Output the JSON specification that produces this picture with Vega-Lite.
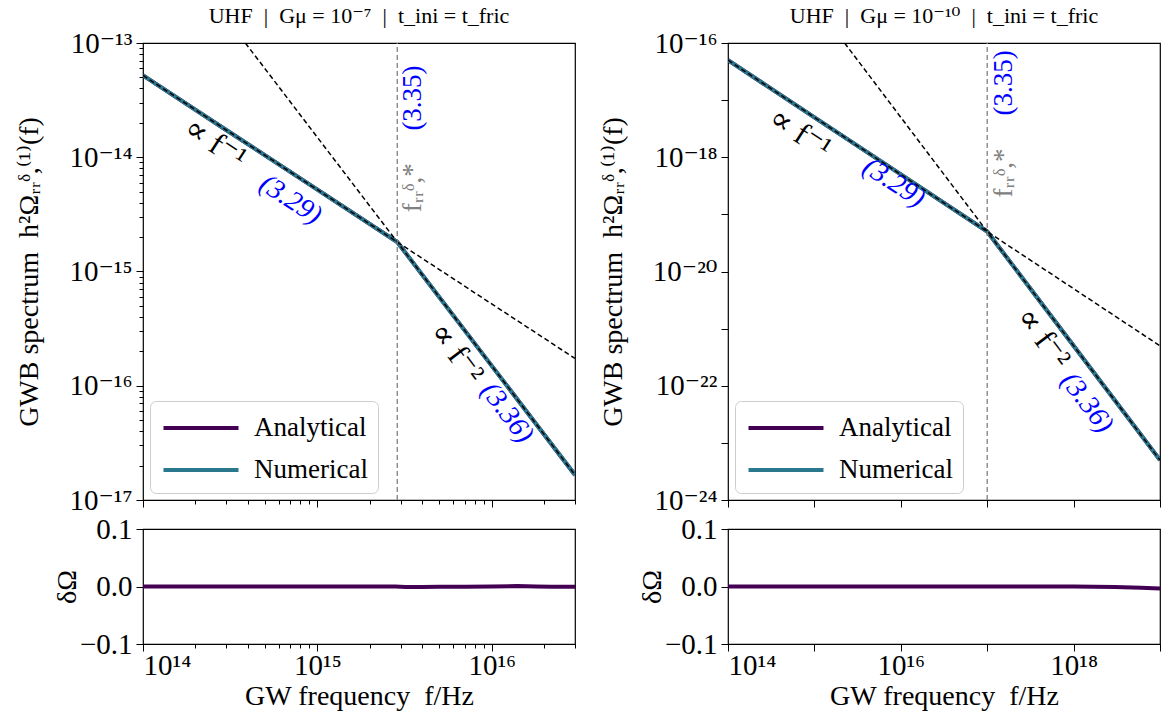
{
  "$schema": "https://vega.github.io/schema/vega-lite/v6.json",
  "padding": {"left": 15, "top": 4, "right": 0, "bottom": 0},
  "background": "white",
  "config": {
    "font": "Liberation Serif, DejaVu Serif",
    "view": {"stroke": "black", "strokeWidth": 1.2},
    "axis": {"labelFont": "Liberation Serif, DejaVu Serif", "titleFont": "Liberation Serif, DejaVu Serif", "labelFontSize": 29, "titleFontSize": 28, "labelColor": "black", "titleColor": "black", "titleFontWeight": "normal", "domainColor": "black", "tickColor": "black", "grid": false, "labelPadding": 4, "tickWidth": 1, "domain": false},
    "legend": {"labelFont": "Liberation Serif, DejaVu Serif"},
    "title": {"font": "Liberation Serif, DejaVu Serif", "fontSize": 22, "fontWeight": "normal", "color": "black", "offset": 1}
  },
  "datasets": {
    "specL": [
      {"f": 1e14, "omega": 5.2e-14, "series": "Analytical"},
      {"f": 3e14, "omega": 1.733e-14, "series": "Analytical"},
      {"f": 1e15, "omega": 5.2e-15, "series": "Analytical"},
      {"f": 2.87e15, "omega": 1.812e-15, "series": "Analytical"},
      {"f": 5e15, "omega": 5.97e-16, "series": "Analytical"},
      {"f": 1e16, "omega": 1.4925e-16, "series": "Analytical"},
      {"f": 2e16, "omega": 3.731e-17, "series": "Analytical"},
      {"f": 3e16, "omega": 1.658e-17, "series": "Analytical"},
      {"f": 1e14, "omega": 5.2e-14, "series": "Numerical"},
      {"f": 3e14, "omega": 1.733e-14, "series": "Numerical"},
      {"f": 1e15, "omega": 5.2e-15, "series": "Numerical"},
      {"f": 2.87e15, "omega": 1.812e-15, "series": "Numerical"},
      {"f": 5e15, "omega": 5.96e-16, "series": "Numerical"},
      {"f": 1e16, "omega": 1.4925e-16, "series": "Numerical"},
      {"f": 2e16, "omega": 3.731e-17, "series": "Numerical"},
      {"f": 3e16, "omega": 1.658e-17, "series": "Numerical"}
    ],
    "asymL": [
      {"f": 1e14, "omega": 5.2e-14, "fit": "f^-1"},
      {"f": 3e16, "omega": 1.733e-16, "fit": "f^-1"},
      {"f": 3.863e14, "omega": 1e-13, "fit": "f^-2"},
      {"f": 3e16, "omega": 1.658e-17, "fit": "f^-2"}
    ],
    "specR": [
      {"f": 1e14, "omega": 5e-17, "series": "Analytical"},
      {"f": 1e15, "omega": 5e-18, "series": "Analytical"},
      {"f": 1e16, "omega": 5e-19, "series": "Analytical"},
      {"f": 1e17, "omega": 5e-20, "series": "Analytical"},
      {"f": 1e18, "omega": 5e-22, "series": "Analytical"},
      {"f": 1e19, "omega": 5e-24, "series": "Analytical"},
      {"f": 1e14, "omega": 5e-17, "series": "Numerical"},
      {"f": 1e15, "omega": 5e-18, "series": "Numerical"},
      {"f": 1e16, "omega": 5e-19, "series": "Numerical"},
      {"f": 1e17, "omega": 5e-20, "series": "Numerical"},
      {"f": 1e18, "omega": 5e-22, "series": "Numerical"},
      {"f": 1e19, "omega": 5.02e-24, "series": "Numerical"}
    ],
    "asymR": [
      {"f": 1e14, "omega": 5e-17, "fit": "f^-1"},
      {"f": 1e19, "omega": 5e-22, "fit": "f^-1"},
      {"f": 2.236e15, "omega": 1e-16, "fit": "f^-2"},
      {"f": 1e19, "omega": 5e-24, "fit": "f^-2"}
    ],
    "resL": [
      {"f": 1e14, "d": 0}, {"f": 3e14, "d": 0}, {"f": 1e15, "d": 0}, {"f": 2e15, "d": 0},
      {"f": 2.8e15, "d": 0}, {"f": 3.2e15, "d": -0.0008}, {"f": 4e15, "d": -0.0009},
      {"f": 5e15, "d": -0.0005}, {"f": 7e15, "d": -0.0004}, {"f": 1e16, "d": 0.0002},
      {"f": 1.4e16, "d": 0.0008}, {"f": 1.8e16, "d": 0.0002}, {"f": 2.2e16, "d": -0.0004},
      {"f": 3e16, "d": -0.0003}
    ],
    "resR": [
      {"f": 1e14, "d": 0}, {"f": 1e15, "d": 0}, {"f": 1e16, "d": 0}, {"f": 1e17, "d": 0},
      {"f": 1e18, "d": -0.0002}, {"f": 3e18, "d": -0.0008}, {"f": 6e18, "d": -0.002},
      {"f": 1e19, "d": -0.0035}
    ]
  },
  "resolve": {"scale": {"color": "independent"}, "legend": {"color": "independent"}},
  "spacing": 21,
  "hconcat": [
    {
      "spacing": -2,
      "resolve": {"scale": {"color": "independent"}, "legend": {"color": "independent"}},
      "vconcat": [
        {
          "width": 432, "height": 457,
          "title": "UHF\u00a0\u00a0|\u00a0\u00a0Gμ = 10⁻⁷\u00a0\u00a0|\u00a0\u00a0t_ini = t_fric",
          "encoding": {
            "x": {"field": "f", "type": "quantitative", "scale": {"type": "log", "domain": [1e14, 3e16], "nice": false},
              "axis": {"title": null, "labels": false,
                "values": [1e14, 2e14, 3e14, 4e14, 5e14, 6e14, 7e14, 8e14, 9e14, 1e15, 2e15, 3e15, 4e15, 5e15, 6e15, 7e15, 8e15, 9e15, 1e16, 2e16, 3e16],
                "tickSize": {"condition": {"test": "abs(log(datum.value)/LN10 - round(log(datum.value)/LN10)) < 0.01", "value": 7}, "value": 4}}},
            "y": {"field": "omega", "type": "quantitative", "scale": {"type": "log", "domain": [1e-17, 1e-13], "nice": false},
              "axis": {"title": "GWB spectrum\u00a0\u00a0h²Ωᵣᵣᵟ,⁽¹⁾(f)", "titlePadding": 25,
                "values": [1e-17, 2e-17, 3e-17, 4e-17, 5e-17, 6e-17, 7e-17, 8e-17, 9e-17, 1e-16, 2e-16, 3e-16, 4e-16, 5e-16, 6e-16, 7e-16, 8e-16, 9e-16, 1e-15, 2e-15, 3e-15, 4e-15, 5e-15, 6e-15, 7e-15, 8e-15, 9e-15, 1e-14, 2e-14, 3e-14, 4e-14, 5e-14, 6e-14, 7e-14, 8e-14, 9e-14, 1e-13],
                "labelExpr": "abs(log(datum.value)/LN10 - round(log(datum.value)/LN10)) < 0.01 ? '10' + replace(replace(replace(replace(replace(replace(replace(replace(replace(replace(replace(toString(round(log(datum.value)/LN10)),'-','⁻'),regexp('0','g'),'⁰'),regexp('1','g'),'¹'),regexp('2','g'),'²'),regexp('3','g'),'³'),regexp('4','g'),'⁴'),regexp('5','g'),'⁵'),regexp('6','g'),'⁶'),regexp('7','g'),'⁷'),regexp('8','g'),'⁸'),regexp('9','g'),'⁹') : ''",
                "tickSize": {"condition": {"test": "abs(log(datum.value)/LN10 - round(log(datum.value)/LN10)) < 0.01", "value": 7}, "value": 4}}}
          },
          "layer": [
            {
              "data": {"name": "specL"},
              "mark": {"type": "line", "strokeWidth": 4, "clip": true},
              "encoding": {
                "color": {"field": "series", "type": "nominal", "scale": {"domain": ["Analytical", "Numerical"], "range": ["#440154", "#2a788e"]},
                  "legend": {"orient": "bottom-left", "title": null, "labelFontSize": 27, "symbolType": "M-2.5,0H2.5", "symbolSize": 900, "symbolStrokeWidth": 4, "symbolOffset": 24, "strokeColor": "#cccccc", "fillColor": "white", "padding": 10, "cornerRadius": 6, "rowPadding": 12, "labelOffset": 36, "offset": 7, "labelColor": "black"}}
              }
            },
            {
              "data": {"name": "asymL"},
              "mark": {"type": "line", "color": "black", "strokeWidth": 1.5, "strokeDash": [5, 3], "clip": true},
              "encoding": {"detail": {"field": "fit"}}
            },
            {
              "data": {"values": [{"f": 2.87e15, "omega": 1e-17, "omega2": 1e-13}]},
              "mark": {"type": "rule", "color": "#808080", "strokeWidth": 1.3, "strokeDash": [5, 3]},
              "encoding": {"y2": {"field": "omega2"}}
            },
            {
              "data": {"values": [{"f": 2.6e14, "omega": 1.33e-14, "label": "∝ f⁻¹"}]},
              "mark": {"type": "text", "angle": 33, "fontSize": 32, "color": "black", "align": "center", "baseline": "middle"},
              "encoding": {"text": {"field": "label"}}
            },
            {
              "data": {"values": [{"f": 6.3e15, "omega": 1.94e-16, "label": "∝ f⁻²"}]},
              "mark": {"type": "text", "angle": 53, "fontSize": 32, "color": "black", "align": "center", "baseline": "middle"},
              "encoding": {"text": {"field": "label"}}
            },
            {
              "data": {"values": [{"f": 7.0e14, "omega": 4.23e-15, "label": "(3.29)"}]},
              "mark": {"type": "text", "angle": 33, "fontSize": 28, "color": "#0000ff", "align": "center", "baseline": "middle", "fontStyle": "italic"},
              "encoding": {"text": {"field": "label"}}
            },
            {
              "data": {"values": [{"f": 1.22e16, "omega": 5.78e-17, "label": "(3.36)"}]},
              "mark": {"type": "text", "angle": 53, "fontSize": 28, "color": "#0000ff", "align": "center", "baseline": "middle", "fontStyle": "italic"},
              "encoding": {"text": {"field": "label"}}
            },
            {
              "data": {"values": [{"f": 3.53e15, "omega": 5.4e-15, "label": "fᵣᵣᵟ,*"}]},
              "mark": {"type": "text", "angle": 270, "fontSize": 27, "color": "#808080", "align": "center", "baseline": "middle"},
              "encoding": {"text": {"field": "label"}}
            },
            {
              "data": {"values": [{"f": 3.53e15, "omega": 3.3e-14, "label": "(3.35)"}]},
              "mark": {"type": "text", "angle": 270, "fontSize": 27, "color": "#0000ff", "align": "center", "baseline": "middle"},
              "encoding": {"text": {"field": "label"}}
            }
          ]
        },
        {
          "width": 432, "height": 115,
          "data": {"name": "resL"},
          "mark": {"type": "line", "color": "#440154", "strokeWidth": 4, "clip": true},
          "encoding": {
            "x": {"field": "f", "type": "quantitative", "scale": {"type": "log", "domain": [1e14, 3e16], "nice": false},
              "axis": {"title": "GW frequency\u00a0\u00a0f/Hz", "titlePadding": 2, "labelPadding": 0,
                "values": [1e14, 2e14, 3e14, 4e14, 5e14, 6e14, 7e14, 8e14, 9e14, 1e15, 2e15, 3e15, 4e15, 5e15, 6e15, 7e15, 8e15, 9e15, 1e16, 2e16, 3e16],
                "labelExpr": "abs(log(datum.value)/LN10 - round(log(datum.value)/LN10)) < 0.01 ? '10' + replace(replace(replace(replace(replace(replace(replace(replace(replace(replace(replace(toString(round(log(datum.value)/LN10)),'-','⁻'),regexp('0','g'),'⁰'),regexp('1','g'),'¹'),regexp('2','g'),'²'),regexp('3','g'),'³'),regexp('4','g'),'⁴'),regexp('5','g'),'⁵'),regexp('6','g'),'⁶'),regexp('7','g'),'⁷'),regexp('8','g'),'⁸'),regexp('9','g'),'⁹') : ''",
                "tickSize": {"condition": {"test": "abs(log(datum.value)/LN10 - round(log(datum.value)/LN10)) < 0.01", "value": 7}, "value": 4}}},
            "y": {"field": "d", "type": "quantitative", "scale": {"domain": [-0.1, 0.1], "nice": false},
              "axis": {"title": "δΩ", "titlePadding": -2, "values": [-0.1, 0, 0.1], "format": ".1f", "tickSize": 7}}
          }
        }
      ]
    },
    {
      "spacing": -2,
      "resolve": {"scale": {"color": "independent"}, "legend": {"color": "independent"}},
      "vconcat": [
        {
          "width": 432, "height": 457,
          "title": "UHF\u00a0\u00a0|\u00a0\u00a0Gμ = 10⁻¹⁰\u00a0\u00a0|\u00a0\u00a0t_ini = t_fric",
          "encoding": {
            "x": {"field": "f", "type": "quantitative", "scale": {"type": "log", "domain": [1e14, 1e19], "nice": false},
              "axis": {"title": null, "labels": false, "values": [1e14, 1e15, 1e16, 1e17, 1e18, 1e19], "tickSize": 7}},
            "y": {"field": "omega", "type": "quantitative", "scale": {"type": "log", "domain": [1e-24, 1e-16], "nice": false},
              "axis": {"title": "GWB spectrum\u00a0\u00a0h²Ωᵣᵣᵟ,⁽¹⁾(f)", "titlePadding": 25,
                "values": [1e-24, 1e-23, 1e-22, 1e-21, 1e-20, 1e-19, 1e-18, 1e-17, 1e-16],
                "labelExpr": "round(log(datum.value)/LN10) % 2 == 0 ? '10' + replace(replace(replace(replace(replace(replace(replace(replace(replace(replace(replace(toString(round(log(datum.value)/LN10)),'-','⁻'),regexp('0','g'),'⁰'),regexp('1','g'),'¹'),regexp('2','g'),'²'),regexp('3','g'),'³'),regexp('4','g'),'⁴'),regexp('5','g'),'⁵'),regexp('6','g'),'⁶'),regexp('7','g'),'⁷'),regexp('8','g'),'⁸'),regexp('9','g'),'⁹') : ''",
                "tickSize": 7}}
          },
          "layer": [
            {
              "data": {"name": "specR"},
              "mark": {"type": "line", "strokeWidth": 4, "clip": true},
              "encoding": {
                "color": {"field": "series", "type": "nominal", "scale": {"domain": ["Analytical", "Numerical"], "range": ["#440154", "#2a788e"]},
                  "legend": {"orient": "bottom-left", "title": null, "labelFontSize": 27, "symbolType": "M-2.5,0H2.5", "symbolSize": 900, "symbolStrokeWidth": 4, "symbolOffset": 24, "strokeColor": "#cccccc", "fillColor": "white", "padding": 10, "cornerRadius": 6, "rowPadding": 12, "labelOffset": 36, "offset": 7, "labelColor": "black"}}
              }
            },
            {
              "data": {"name": "asymR"},
              "mark": {"type": "line", "color": "black", "strokeWidth": 1.5, "strokeDash": [5, 3], "clip": true},
              "encoding": {"detail": {"field": "fit"}}
            },
            {
              "data": {"values": [{"f": 1e17, "omega": 1e-24, "omega2": 1e-16}]},
              "mark": {"type": "rule", "color": "#808080", "strokeWidth": 1.3, "strokeDash": [5, 3]},
              "encoding": {"y2": {"field": "omega2"}}
            },
            {
              "data": {"values": [{"f": 6.87e14, "omega": 2.65e-18, "label": "∝ f⁻¹"}]},
              "mark": {"type": "text", "angle": 33, "fontSize": 32, "color": "black", "align": "center", "baseline": "middle"},
              "encoding": {"text": {"field": "label"}}
            },
            {
              "data": {"values": [{"f": 4.47e17, "omega": 6.86e-22, "label": "∝ f⁻²"}]},
              "mark": {"type": "text", "angle": 53, "fontSize": 32, "color": "black", "align": "center", "baseline": "middle"},
              "encoding": {"text": {"field": "label"}}
            },
            {
              "data": {"values": [{"f": 8.3e15, "omega": 3.55e-19, "label": "(3.29)"}]},
              "mark": {"type": "text", "angle": 33, "fontSize": 28, "color": "#0000ff", "align": "center", "baseline": "middle", "fontStyle": "italic"},
              "encoding": {"text": {"field": "label"}}
            },
            {
              "data": {"values": [{"f": 1.42e18, "omega": 5e-23, "label": "(3.36)"}]},
              "mark": {"type": "text", "angle": 53, "fontSize": 28, "color": "#0000ff", "align": "center", "baseline": "middle", "fontStyle": "italic"},
              "encoding": {"text": {"field": "label"}}
            },
            {
              "data": {"values": [{"f": 1.58e17, "omega": 5.3e-19, "label": "fᵣᵣᵟ,*"}]},
              "mark": {"type": "text", "angle": 270, "fontSize": 27, "color": "#808080", "align": "center", "baseline": "middle"},
              "encoding": {"text": {"field": "label"}}
            },
            {
              "data": {"values": [{"f": 1.58e17, "omega": 2e-17, "label": "(3.35)"}]},
              "mark": {"type": "text", "angle": 270, "fontSize": 27, "color": "#0000ff", "align": "center", "baseline": "middle"},
              "encoding": {"text": {"field": "label"}}
            }
          ]
        },
        {
          "width": 432, "height": 115,
          "data": {"name": "resR"},
          "mark": {"type": "line", "color": "#440154", "strokeWidth": 4, "clip": true},
          "encoding": {
            "x": {"field": "f", "type": "quantitative", "scale": {"type": "log", "domain": [1e14, 1e19], "nice": false},
              "axis": {"title": "GW frequency\u00a0\u00a0f/Hz", "titlePadding": 2, "labelPadding": 0,
                "values": [1e14, 1e15, 1e16, 1e17, 1e18, 1e19],
                "labelExpr": "round(log(datum.value)/LN10) % 2 == 0 ? '10' + replace(replace(replace(replace(replace(replace(replace(replace(replace(replace(replace(toString(round(log(datum.value)/LN10)),'-','⁻'),regexp('0','g'),'⁰'),regexp('1','g'),'¹'),regexp('2','g'),'²'),regexp('3','g'),'³'),regexp('4','g'),'⁴'),regexp('5','g'),'⁵'),regexp('6','g'),'⁶'),regexp('7','g'),'⁷'),regexp('8','g'),'⁸'),regexp('9','g'),'⁹') : ''",
                "tickSize": 7}},
            "y": {"field": "d", "type": "quantitative", "scale": {"domain": [-0.1, 0.1], "nice": false},
              "axis": {"title": "δΩ", "titlePadding": -2, "values": [-0.1, 0, 0.1], "format": ".1f", "tickSize": 7}}
          }
        }
      ]
    }
  ]
}
